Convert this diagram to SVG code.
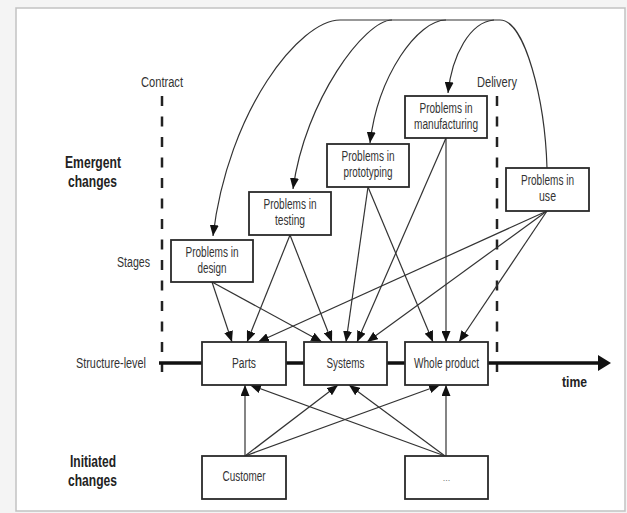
<svg xmlns="http://www.w3.org/2000/svg" width="627" height="513" viewBox="0 0 627 513">
<defs>
<marker id="ah" markerWidth="11" markerHeight="9" refX="11" refY="4.5" orient="auto" markerUnits="userSpaceOnUse"><path d="M0,0 L11,4.5 L0,9 z" fill="#111"/></marker>
<style>
.box{fill:#fff;stroke:#2a2a2a;stroke-width:1.8}
.t{font-family:"Liberation Sans",Arial,sans-serif;font-size:14px;fill:#333;text-anchor:middle}
.b{font-family:"Liberation Sans",Arial,sans-serif;font-size:17px;font-weight:bold;fill:#222;text-anchor:middle}
.c{fill:none;stroke:#333;stroke-width:1.2;marker-end:url(#ah)}
.dash{stroke:#222;stroke-width:2.5;stroke-dasharray:10 10.5}
</style>
</defs>
<rect x="0" y="0" width="627" height="513" fill="#f4f4f4"/>
<rect x="16" y="8" width="609" height="503" fill="#fff" stroke="#c2c2c2" stroke-width="1.5"/>

<g id="milestones">
<line class="dash" x1="162" y1="96" x2="162" y2="372"/>
<line class="dash" x1="497" y1="96" x2="497" y2="372"/>
<text class="t" x="162" y="87" textLength="42" lengthAdjust="spacingAndGlyphs">Contract</text>
<text class="t" x="497" y="87" textLength="40" lengthAdjust="spacingAndGlyphs">Delivery</text>
</g>

<g id="labels">
<text class="b" x="93" y="168" textLength="56" lengthAdjust="spacingAndGlyphs">Emergent</text>
<text class="b" x="92.5" y="187" textLength="49" lengthAdjust="spacingAndGlyphs">changes</text>
<text class="t" x="133.5" y="267" textLength="33" lengthAdjust="spacingAndGlyphs">Stages</text>
<text class="t" x="111" y="368" textLength="70" lengthAdjust="spacingAndGlyphs">Structure-level</text>
<text class="b" x="93" y="467" textLength="46" lengthAdjust="spacingAndGlyphs">Initiated</text>
<text class="b" x="92.5" y="486" textLength="49" lengthAdjust="spacingAndGlyphs">changes</text>
<text class="b" x="574.5" y="387" style="font-size:15px" textLength="25" lengthAdjust="spacingAndGlyphs">time</text>
</g>

<g id="time-axis">
<line x1="159" y1="363" x2="600" y2="363" stroke="#111" stroke-width="3.5"/>
<polygon points="598,355 611,363 598,371" fill="#111"/>
</g>

<g id="connectors">
<path class="c" d="M547,168 C545,100 525,20 500,20 L340,20 C300,20 228,110 213,236"/>
<path class="c" d="M392,20 C365,20 305,100 293,189"/>
<path class="c" d="M446,20 C418,20 378,75 370,143"/>
<path class="c" d="M494,20 C470,22 452,55 448,93"/>

<line class="c" x1="212" y1="282" x2="232" y2="342"/>
<line class="c" x1="212" y1="282" x2="322" y2="342"/>
<line class="c" x1="290" y1="235" x2="247" y2="342"/>
<line class="c" x1="290" y1="235" x2="332" y2="342"/>
<line class="c" x1="368" y1="187" x2="346" y2="342"/>
<line class="c" x1="368" y1="187" x2="433" y2="342"/>
<line class="c" x1="446" y1="138" x2="357" y2="342"/>
<line class="c" x1="446" y1="138" x2="446" y2="342"/>
<line class="c" x1="547" y1="211" x2="258" y2="342"/>
<line class="c" x1="547" y1="211" x2="367" y2="342"/>
<line class="c" x1="547" y1="211" x2="459" y2="342"/>

<line class="c" x1="245" y1="456" x2="245" y2="385"/>
<line class="c" x1="245" y1="456" x2="338" y2="385"/>
<line class="c" x1="245" y1="456" x2="440" y2="385"/>
<line class="c" x1="445" y1="456" x2="250" y2="385"/>
<line class="c" x1="445" y1="456" x2="349" y2="385"/>
<line class="c" x1="446" y1="456" x2="446" y2="385"/>
</g>

<g id="problems-design">
<rect class="box" x="171" y="240" width="82" height="42"/>
<text class="t" x="212" y="257" textLength="53" lengthAdjust="spacingAndGlyphs">Problems in</text>
<text class="t" x="212" y="273" textLength="29" lengthAdjust="spacingAndGlyphs">design</text>
</g>
<g id="problems-testing">
<rect class="box" x="249" y="192" width="82" height="43"/>
<text class="t" x="290" y="209" textLength="53" lengthAdjust="spacingAndGlyphs">Problems in</text>
<text class="t" x="290" y="225" textLength="30" lengthAdjust="spacingAndGlyphs">testing</text>
</g>
<g id="problems-prototyping">
<rect class="box" x="327" y="144" width="82" height="43"/>
<text class="t" x="368" y="161" textLength="53" lengthAdjust="spacingAndGlyphs">Problems in</text>
<text class="t" x="368" y="177" textLength="49" lengthAdjust="spacingAndGlyphs">prototyping</text>
</g>
<g id="problems-manufacturing">
<rect class="box" x="405" y="96" width="82" height="42"/>
<text class="t" x="446" y="113" textLength="53" lengthAdjust="spacingAndGlyphs">Problems in</text>
<text class="t" x="446" y="129" textLength="64" lengthAdjust="spacingAndGlyphs">manufacturing</text>
</g>
<g id="problems-use">
<rect class="box" x="506" y="168" width="83" height="43"/>
<text class="t" x="547.5" y="185" textLength="53" lengthAdjust="spacingAndGlyphs">Problems in</text>
<text class="t" x="547.5" y="201" textLength="17" lengthAdjust="spacingAndGlyphs">use</text>
</g>

<g id="parts">
<rect class="box" x="202" y="342" width="84" height="43"/>
<text class="t" x="244" y="368" textLength="24" lengthAdjust="spacingAndGlyphs">Parts</text>
</g>
<g id="systems">
<rect class="box" x="304" y="342" width="83" height="43"/>
<text class="t" x="345.5" y="368" textLength="38" lengthAdjust="spacingAndGlyphs">Systems</text>
</g>
<g id="whole-product">
<rect class="box" x="405" y="342" width="83" height="43"/>
<text class="t" x="446.5" y="368" textLength="65" lengthAdjust="spacingAndGlyphs">Whole product</text>
</g>

<g id="customer">
<rect class="box" x="202" y="456" width="84" height="43"/>
<text class="t" x="244" y="480.5" textLength="43" lengthAdjust="spacingAndGlyphs">Customer</text>
</g>
<g id="other">
<rect class="box" x="405" y="456" width="83" height="43"/>
<text class="t" x="446.5" y="481" style="font-size:9px;fill:#777">...</text>
</g>
</svg>
